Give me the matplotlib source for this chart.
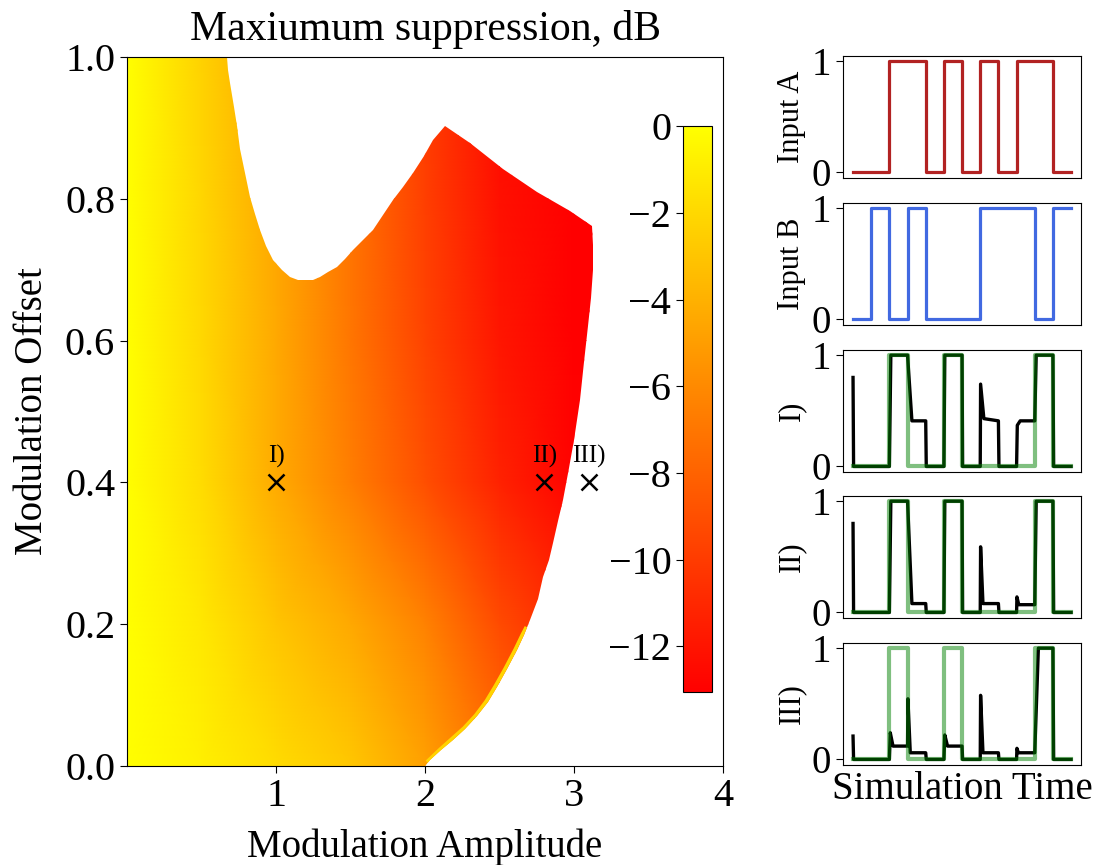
import numpy as np
import matplotlib
matplotlib.use("Agg")
import matplotlib.pyplot as plt
from matplotlib.patches import Polygon

plt.rcParams['font.family'] = ['Liberation Serif', 'DejaVu Serif']
plt.rcParams['axes.unicode_minus'] = True

# ---- suppression map (coarse samples, dB) ----
amp_grid = [0.0, 0.5, 1.0, 1.5, 2.0, 2.5, 3.0, 3.5]
off_grid = [0.0, 0.2, 0.4, 0.6, 0.8, 1.0]
supp_db = [
    [0.0, -0.8, -1.8, -2.9, -4.8, -7.4, -9.4, -10.0],
    [0.0, -1.2, -3.0, -4.4, -6.4, -9.2, -11.2, -12.0],
    [0.0, -1.8, -4.3, -6.6, -9.0, -11.3, -12.9, -13.0],
    [0.0, -2.0, -4.4, -7.0, -9.6, -11.9, -13.0, -13.0],
    [0.0, -2.1, -4.5, -7.1, -9.8, -12.2, -13.0, -13.0],
    [0.0, -2.3, -4.7, -7.2, -9.9, -12.4, -13.0, -13.0],
]

# outline of the region with a valid result
edge_amp = [0.0, 2.0, 2.035, 2.11, 2.19, 2.27, 2.349, 2.42, 2.483, 2.55, 2.617, 2.665,
            2.707, 2.755, 2.795, 2.83, 2.86, 2.895, 2.926, 2.965, 3.0, 3.04, 3.07,
            3.095, 3.115, 3.125, 3.127, 3.12,
            2.975, 2.75, 2.525, 2.30, 2.136, 2.055, 1.99, 1.92, 1.85, 1.786, 1.72,
            1.652, 1.585, 1.518, 1.46, 1.408, 1.35, 1.296, 1.25, 1.206, 1.15, 1.095,
            1.04, 0.98, 0.935, 0.893, 0.86, 0.826, 0.79, 0.76, 0.737, 0.715, 0.69,
            0.678, 0.67, 0.0]
edge_off = [0.0, 0.0, 0.008, 0.022, 0.037, 0.052, 0.07, 0.09, 0.112, 0.137, 0.164, 0.185,
            0.206, 0.235, 0.267, 0.29, 0.315, 0.345, 0.375, 0.42, 0.46, 0.516, 0.57,
            0.62, 0.66, 0.70, 0.735, 0.761,
            0.782, 0.81, 0.842, 0.879, 0.903, 0.883, 0.86, 0.836, 0.817, 0.798, 0.777,
            0.756, 0.742, 0.728, 0.715, 0.704, 0.696, 0.690, 0.686, 0.685, 0.686, 0.690,
            0.700, 0.714, 0.733, 0.756, 0.778, 0.803, 0.836, 0.87, 0.902, 0.93, 0.963,
            0.982, 1.0, 1.0]

# thin bright rim along the lower right edge
rim_amp = [2.02, 2.11, 2.19, 2.27, 2.349, 2.42, 2.483, 2.55, 2.617, 2.665, 2.69]
rim_off = [0.004, 0.022, 0.037, 0.052, 0.07, 0.09, 0.112, 0.137, 0.164, 0.185, 0.195]

points_amp = [1.0, 2.8, 3.1]
points_off = [0.4, 0.4, 0.4]
points_lbl = ['I)', 'II)', 'III)']

# ---- logic traces (one value per bit) ----
input_a = [0, 0, 1, 1, 0, 1, 0, 1, 0, 1, 1, 0]
input_b = [0, 1, 0, 1, 0, 0, 0, 1, 1, 1, 0, 1]
target = [0, 0, 1, 0, 0, 1, 0, 0, 0, 0, 1, 0]

out1_t = [0, 0.03, 2.0, 2.08, 3.0, 3.24, 4.0, 4.03, 5.0, 5.05, 6.0, 6.03, 7.0, 7.02, 7.2, 8.0,
          8.03, 9.0, 9.04, 9.2, 10.0, 10.08, 11.0, 11.04, 12.0]
out1_v = [0.8, 0.0, 0.0, 1.0, 1.0, 0.41, 0.41, 0.0, 0.0, 1.0, 1.0, 0.0, 0.0, 0.74, 0.43, 0.41,
          0.0, 0.0, 0.37, 0.41, 0.41, 1.0, 1.0, 0.0, 0.0]
out2_t = [0, 0.03, 2.0, 2.08, 3.0, 3.24, 4.0, 4.03, 5.0, 5.05, 6.0, 6.03, 7.0, 7.02, 7.15, 8.0,
          8.03, 9.0, 9.02, 9.12, 10.0, 10.08, 11.0, 11.04, 12.0]
out2_v = [0.8, 0.0, 0.0, 1.0, 1.0, 0.08, 0.08, 0.0, 0.0, 1.0, 1.0, 0.0, 0.0, 0.59, 0.08, 0.08,
          0.0, 0.0, 0.14, 0.07, 0.07, 1.0, 1.0, 0.0, 0.0]
out3_t = [0, 0.03, 2.0, 2.05, 2.2, 3.0, 3.02, 3.15, 4.0, 4.03, 5.0, 5.05, 5.2, 6.0, 6.03, 7.0,
          7.02, 7.15, 8.0, 8.03, 9.0, 9.02, 9.1, 10.0, 10.2, 11.0, 11.04, 12.0]
out3_v = [0.21, 0.0, 0.0, 0.24, 0.12, 0.12, 0.545, 0.06, 0.06, 0.0, 0.0, 0.22, 0.12, 0.12, 0.0, 0.0,
          0.576, 0.06, 0.06, 0.0, 0.0, 0.1, 0.06, 0.06, 1.0, 1.0, 0.0, 0.0]

fig = plt.figure(figsize=(11, 8.65), dpi=100)

# ---- main map ----
ax = fig.add_axes([0.1155, 0.1145, 0.5418, 0.8197])
X, Y = np.meshgrid(amp_grid, off_grid)
mesh = ax.pcolormesh(X, Y, np.array(supp_db), shading='gouraud', cmap='autumn',
                     vmin=-13.05, vmax=0)
region = Polygon(np.column_stack([edge_amp, edge_off]), closed=True,
                 transform=ax.transData, facecolor='none', edgecolor='none')
mesh.set_clip_path(region)
rim, = ax.plot(rim_amp, rim_off, color='#FFD400', lw=5, solid_capstyle='butt')
rim.set_clip_path(region)

ax.plot(points_amp, points_off, 'x', color='black', ms=12, mew=1.8)
for px, py, lbl in zip(points_amp, points_off, points_lbl):
    ax.text(px, py + 0.02, lbl, ha='center', va='bottom', fontsize=18)

ax.set_xlim(0, 4)
ax.set_ylim(0, 1)
ax.set_xticks([1, 2, 3, 4])
ax.set_yticks([0.0, 0.2, 0.4, 0.6, 0.8, 1.0])
ax.set_yticklabels(['0.0', '0.2', '0.4', '0.6', '0.8', '1.0'])
ax.tick_params(labelsize=29, length=5)
ax.set_xlabel('Modulation Amplitude', fontsize=28, labelpad=10)
ax.set_ylabel('Modulation Offset', fontsize=28, labelpad=10)
ax.set_title('Maxiumum suppression, dB', fontsize=30, pad=12)

cax = fig.add_axes([0.621, 0.2, 0.0264, 0.654])
cb = fig.colorbar(mesh, cax=cax, ticks=[0, -2, -4, -6, -8, -10, -12])
cax.yaxis.set_ticks_position('left')
cax.yaxis.set_label_position('left')
cax.tick_params(labelsize=29, length=5)

# ---- right-hand traces ----
bottoms = [0.7942, 0.6243, 0.4543, 0.2855, 0.1156]
labels = ['Input A', 'Input B', 'I)', 'II)', 'III)']
bits_t = np.arange(len(input_a) + 1)
outs = [(out1_t, out1_v), (out2_t, out2_v), (out3_t, out3_v)]

for i, (b, lbl) in enumerate(zip(bottoms, labels)):
    a = fig.add_axes([0.7664, b, 0.2164, 0.1415])
    if i == 0:
        a.plot(bits_t, input_a + [input_a[-1]], drawstyle='steps-post', color='#B22222', lw=2.3)
    elif i == 1:
        a.plot(bits_t, input_b + [input_b[-1]], drawstyle='steps-post', color='royalblue', lw=2.3)
    else:
        ot, ov = outs[i - 2]
        a.plot(ot, ov, color='black', lw=2.4)
        a.plot(bits_t, target + [target[-1]], drawstyle='steps-post', color='green',
               alpha=0.5, lw=3.0)
    a.set_xlim(-0.55, 12.55)
    a.set_ylim(-0.05, 1.05)
    a.set_xticks([])
    a.set_yticks([0, 1])
    a.tick_params(labelsize=28, length=5)
    a.set_ylabel(lbl, fontsize=22)
    if i == 4:
        a.set_xlabel('Simulation Time', fontsize=28)

fig.savefig('out.png', dpi=100)
